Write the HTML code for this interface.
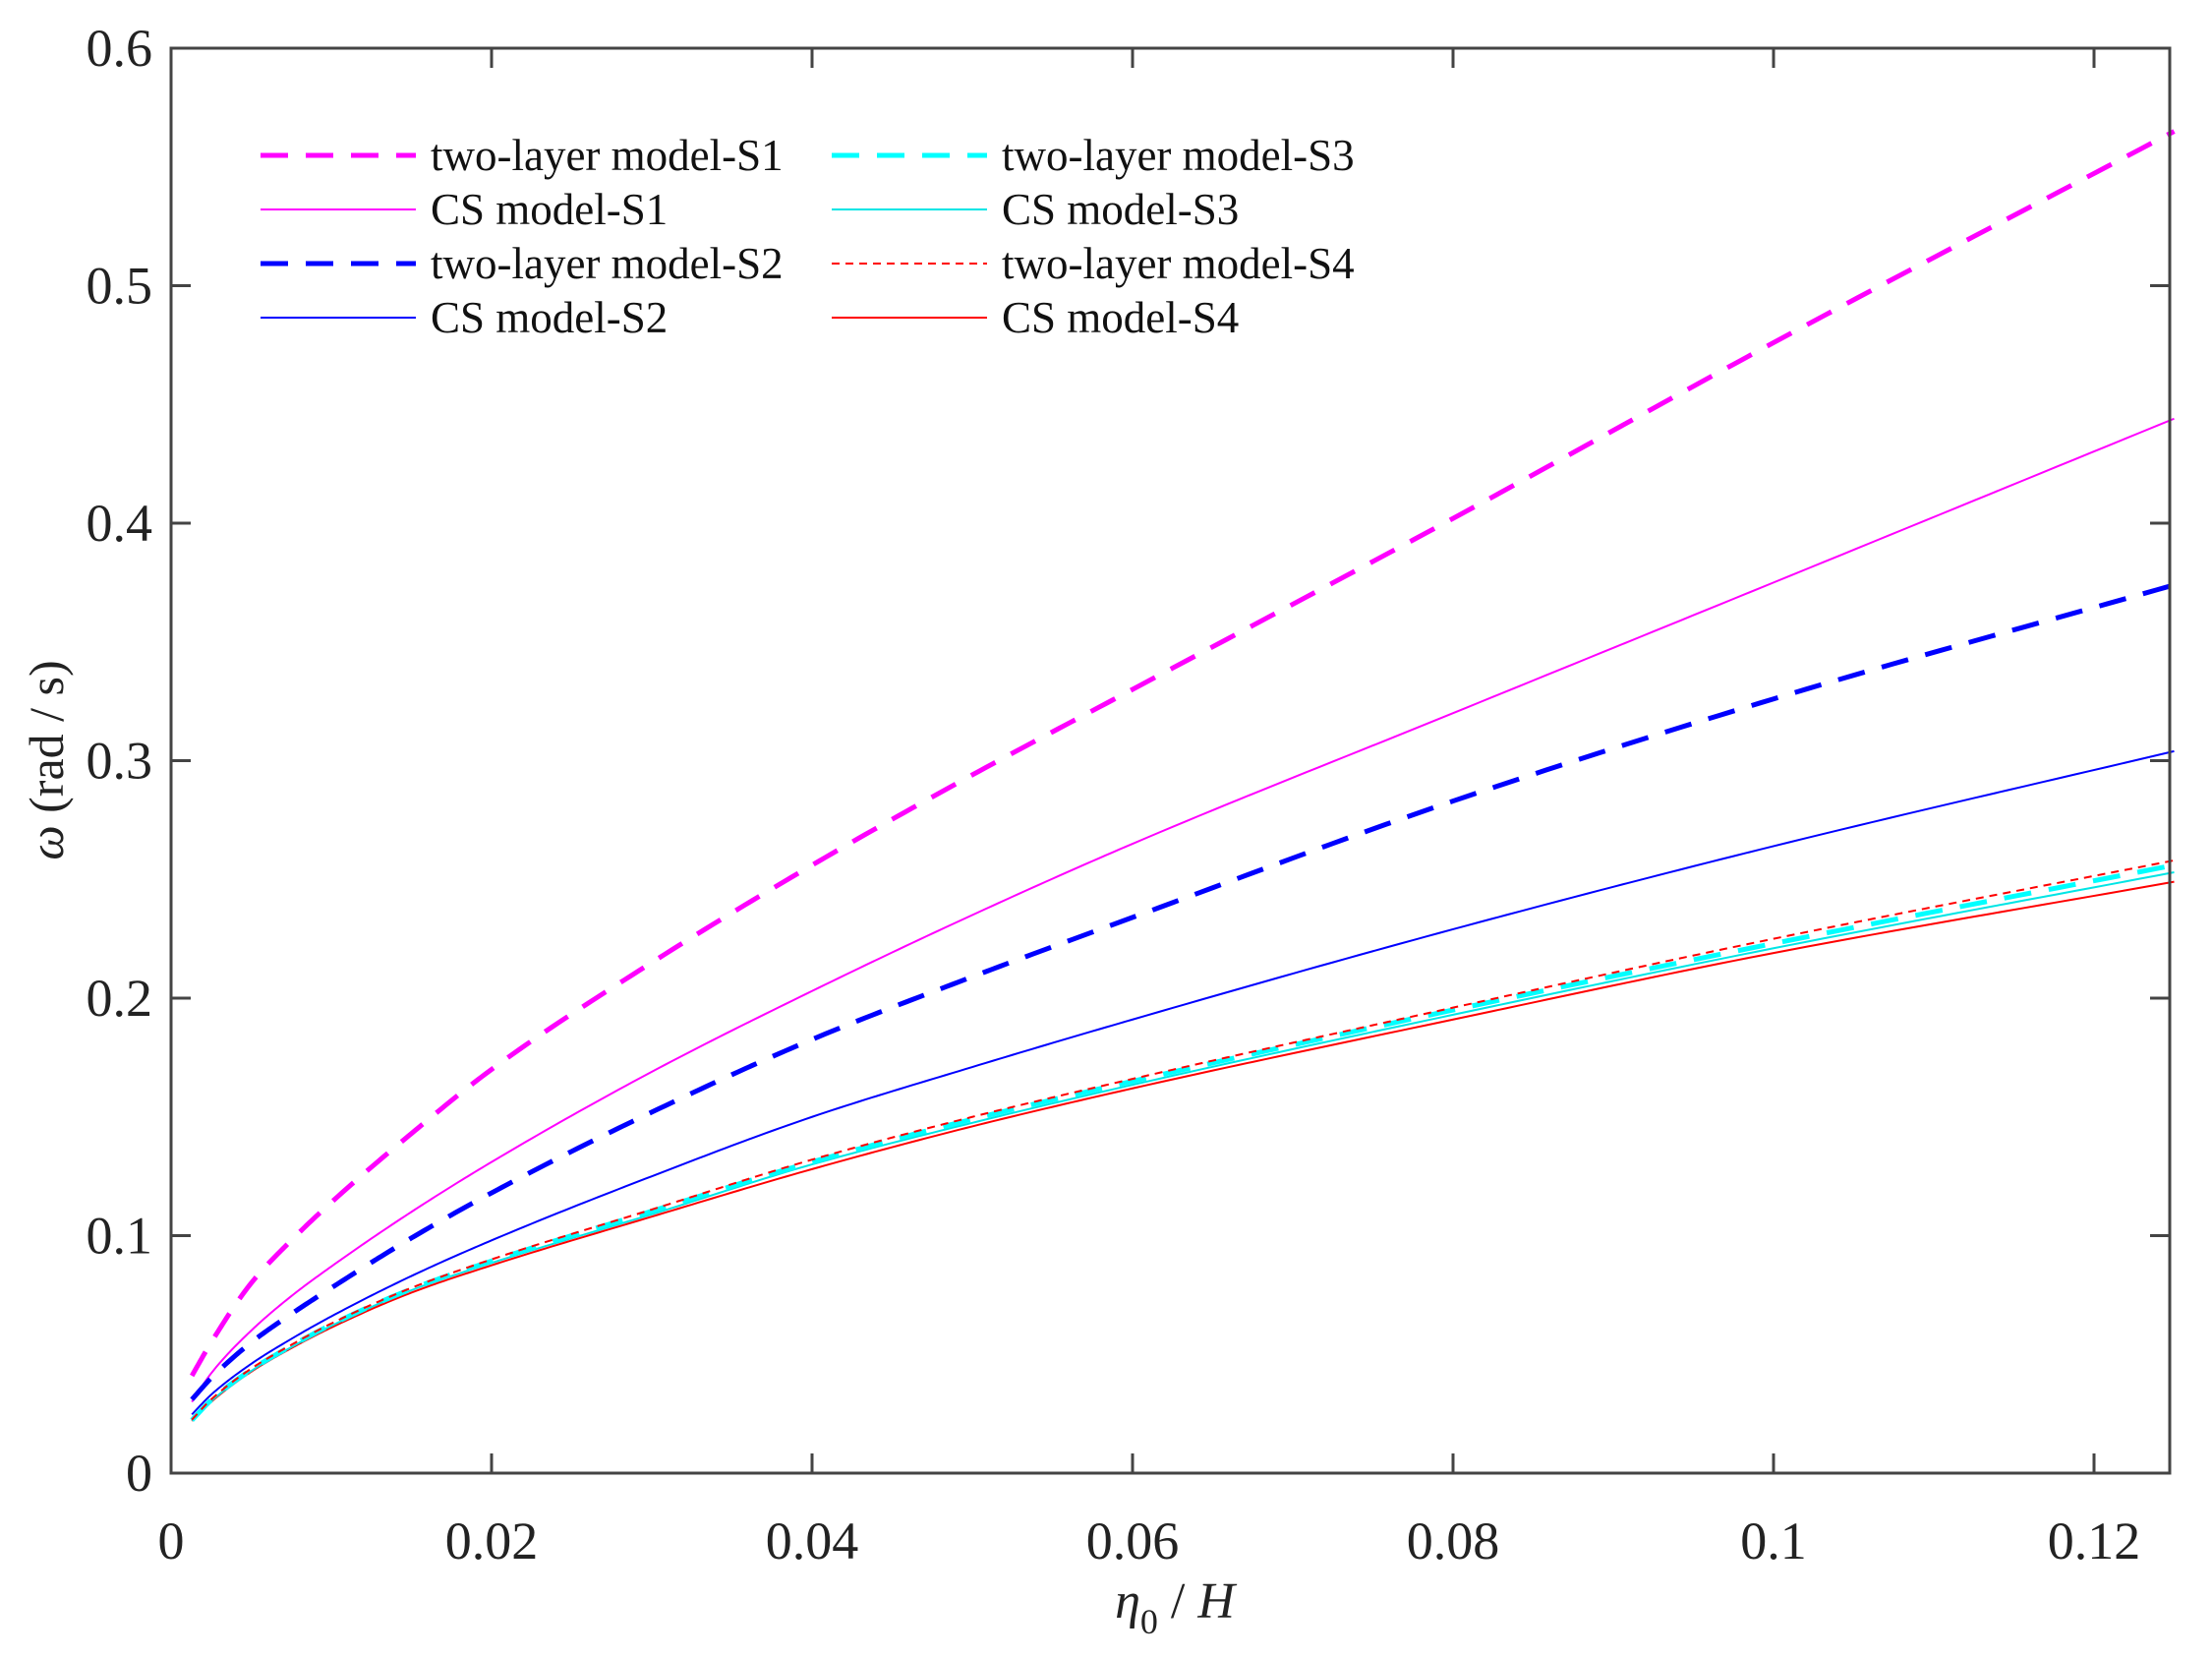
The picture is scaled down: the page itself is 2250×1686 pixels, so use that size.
<!DOCTYPE html>
<html><head><meta charset="utf-8"><style>
html,body{margin:0;padding:0;background:#fff;}
svg{display:block;font-family:"Liberation Serif",serif;}
</style></head><body>
<svg id="chart" width="2250" height="1686" viewBox="0 0 2250 1686" xmlns="http://www.w3.org/2000/svg">
<g id="plot"></g>
<rect x="174" y="49" width="2033" height="1449" fill="none" stroke="#444" stroke-width="3"/>
<g id="ticks"></g>
<text transform="translate(64,773) rotate(-90)" text-anchor="middle" font-size="50" fill="#222"><tspan font-style="italic">ω</tspan> (rad / s)</text>
<text x="1195" y="1645" text-anchor="middle" font-size="52" fill="#222" font-style="italic">η<tspan font-style="normal" font-size="36" dy="16">0</tspan><tspan font-style="normal" dy="-16"> / </tspan>H</text>
<g id="legend"></g>
</svg>
<script>
const xs    = [0.0013,0.0025,0.005,0.0075,0.01,0.015,0.02,0.03,0.04,0.05,0.06,0.08,0.1,0.125];
const s1Two = [0.041,0.055,0.080,0.098,0.114,0.143,0.170,0.215,0.256,0.294,0.330,0.402,0.476,0.565];
const s1CS  = [0.030,0.042,0.060,0.0745,0.087,0.110,0.131,0.169,0.203,0.235,0.265,0.320,0.375,0.444];
const s2Two = [0.031,0.040,0.055,0.067,0.078,0.099,0.118,0.152,0.1826,0.209,0.234,0.283,0.326,0.374];
const s2CS  = [0.0247,0.033,0.046,0.0565,0.066,0.083,0.098,0.125,0.150,0.171,0.191,0.229,0.264,0.304];
const s3Two = [0.0223,0.0307,0.0435,0.0535,0.0625,0.0775,0.0893,0.1103,0.131,0.149,0.165,0.195,0.223,0.256];
const s3CS  = [0.0222,0.0303,0.043,0.053,0.062,0.077,0.0885,0.109,0.130,0.1475,0.1635,0.193,0.221,0.253];
const s4Two = [0.0225,0.031,0.044,0.054,0.063,0.078,0.090,0.111,0.132,0.150,0.166,0.196,0.225,0.258];
const s4CS  = [0.022,0.030,0.0427,0.0526,0.0613,0.076,0.0875,0.108,0.128,0.146,0.162,0.191,0.219,0.249];
const xTicks = [0,0.02,0.04,0.06,0.08,0.1,0.12];
const xTickLabels = ["0","0.02","0.04","0.06","0.08","0.1","0.12"];
const yTicks = [0,0.1,0.2,0.3,0.4,0.5,0.6];
const yTickLabels = ["0","0.1","0.2","0.3","0.4","0.5","0.6"];

const NS="http://www.w3.org/2000/svg";
const X0=174,X1=2207,Y0=1498,Y1=49;
const xPx=v=>X0+v*(2130-X0)/0.12;
const yPx=v=>Y0-v*(Y0-Y1)/0.6;
function mk(tag,attrs,parent){const e=document.createElementNS(NS,tag);for(const k in attrs)e.setAttribute(k,attrs[k]);parent.appendChild(e);return e;}

function monotonePath(X,Y){
 const n=X.length,h=[],dl=[];
 for(let i=0;i<n-1;i++){h.push(X[i+1]-X[i]);dl.push((Y[i+1]-Y[i])/h[i]);}
 const m=new Array(n);m[0]=dl[0];m[n-1]=dl[n-2];
 for(let i=1;i<n-1;i++){if(dl[i-1]*dl[i]<=0)m[i]=0;else{const w1=2*h[i]+h[i-1],w2=h[i]+2*h[i-1];m[i]=(w1+w2)/(w1/dl[i-1]+w2/dl[i]);}}
 let d="";
 for(let i=0;i<n-1;i++){const steps=24;
  for(let k=(i===0?0:1);k<=steps;k++){const t=k/steps,t2=t*t,t3=t2*t;
   const y=(2*t3-3*t2+1)*Y[i]+(t3-2*t2+t)*h[i]*m[i]+(-2*t3+3*t2)*Y[i+1]+(t3-t2)*h[i]*m[i+1];
   const x=X[i]+t*h[i];
   d+=(d===""?"M":" L")+xPx(x).toFixed(2)+","+yPx(y).toFixed(2);}}
 return d;
}

const series=[
 {name:"two-layer model-S1",d:s1Two,c:"#ff00ff",w:5,dash:"28 18",col:0,row:0,id:"s1-two-layer"},
 {name:"CS model-S1",d:s1CS,c:"#ff00ff",w:2,dash:"",col:0,row:1,id:"s1-cs"},
 {name:"two-layer model-S2",d:s2Two,c:"#0000ff",w:5,dash:"28 18",col:0,row:2,id:"s2-two-layer"},
 {name:"CS model-S2",d:s2CS,c:"#0000ff",w:2,dash:"",col:0,row:3,id:"s2-cs"},
 {name:"two-layer model-S3",d:s3Two,c:"#00ffff",w:5,dash:"28 18",col:1,row:0,id:"s3-two-layer"},
 {name:"CS model-S3",d:s3CS,c:"#00e5e5",w:2,dash:"",col:1,row:1,id:"s3-cs"},
 {name:"two-layer model-S4",d:s4Two,c:"#ff0000",w:2,dash:"8 6",col:1,row:2,id:"s4-two-layer"},
 {name:"CS model-S4",d:s4CS,c:"#ff0000",w:2,dash:"",col:1,row:3,id:"s4-cs"}
];
const plot=document.getElementById('plot');
const drawOrder=[0,1,2,3,7,5,4,6];
for(const i of drawOrder){const s=series[i];
 const el=mk('path',{d:monotonePath(xs,s.d),fill:"none",stroke:s.c,"stroke-width":s.w,"stroke-dasharray":s.dash},plot);
 
 
}
const tk=document.getElementById('ticks');
xTicks.forEach((v,i)=>{const x=xPx(v);
 if(v>0){mk('line',{x1:x,y1:Y0,x2:x,y2:Y0-20,stroke:"#444","stroke-width":3},tk);
 mk('line',{x1:x,y1:Y1,x2:x,y2:Y1+20,stroke:"#444","stroke-width":3},tk);}
 const t=mk('text',{x:x,y:1585,"text-anchor":"middle","font-size":"54",fill:"#222"},tk);t.textContent=xTickLabels[i];
 
 
});
yTicks.forEach((v,i)=>{const y=yPx(v);
 if(v>0&&v<0.6){mk('line',{x1:X0,y1:y,x2:X0+20,y2:y,stroke:"#444","stroke-width":3},tk);
 mk('line',{x1:X1,y1:y,x2:X1-20,y2:y,stroke:"#444","stroke-width":3},tk);}
 const t=mk('text',{x:155,y:y+18,"text-anchor":"end","font-size":"54",fill:"#222"},tk);t.textContent=yTickLabels[i];
 
 
});
const lg=document.getElementById('legend');
const rowsY=[158,213,268,323], lineX=[[265,423],[846,1004]], textX=[438,1019];
series.forEach(s=>{const y=rowsY[s.row];
 const g=mk('g',{},lg);
 
 
 mk('line',{x1:lineX[s.col][0],y1:y,x2:lineX[s.col][1],y2:y,stroke:s.c,"stroke-width":s.w,"stroke-dasharray":s.dash},g);
 const t=mk('text',{x:textX[s.col],y:y+15,"font-size":"45",fill:"#111"},g);t.textContent=s.name;
});
</script>
</body></html>
